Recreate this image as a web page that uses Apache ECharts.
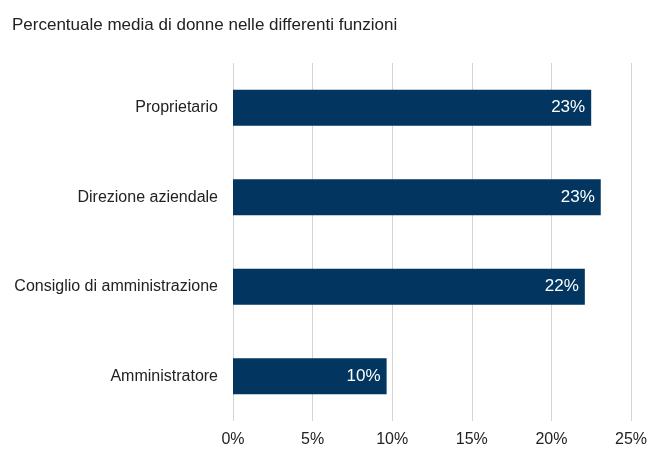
<!DOCTYPE html>
<html>
<head>
<meta charset="utf-8">
<script src="https://cdn.jsdelivr.net/npm/echarts@6/dist/echarts.min.js"></script>
<style>
  html, body { margin: 0; padding: 0; background: #fff; }
  #chart { width: 650px; height: 450px; }
</style>
</head>
<body>
<div id="chart"></div>
<script>
// Average share of women per role (percent)
const categories = ['Proprietario', 'Direzione aziendale', 'Consiglio di amministrazione', 'Amministratore'];
const values = [22.5, 23.1, 22.1, 9.65];
const axisTicks = [0, 5, 10, 15, 20, 25];

const FONT = '"Liberation Sans", Arial, sans-serif';

const chart = echarts.init(document.getElementById('chart'));
chart.setOption({
  animation: false,
  backgroundColor: '#ffffff',
  title: {
    text: 'Percentuale media di donne nelle differenti funzioni',
    left: 7,
    top: 12,
    textStyle: { fontFamily: FONT, fontSize: 17, fontWeight: 'normal', color: '#222222' }
  },
  grid: { left: 233, right: 18, top: 63, bottom: 29, containLabel: false },
  xAxis: {
    type: 'value',
    min: axisTicks[0],
    max: axisTicks[axisTicks.length - 1],
    interval: 5,
    axisLine: { show: false },
    axisTick: { show: false },
    splitLine: { show: true, lineStyle: { color: '#d4d4d4', width: 1 } },
    axisLabel: {
      margin: 11,
      fontFamily: FONT,
      fontSize: 16,
      color: '#222222',
      formatter: v => v + '%'
    }
  },
  yAxis: {
    type: 'category',
    data: categories,
    inverse: true,
    axisLine: { show: false },
    axisTick: { show: false },
    splitLine: { show: false },
    axisLabel: { margin: 15, fontFamily: FONT, fontSize: 16, color: '#222222' }
  },
  series: [{
    type: 'bar',
    data: values,
    barWidth: '40%',
    itemStyle: { color: '#023560' },
    label: {
      show: true,
      position: 'insideRight',
      offset: [-1, 0],
      fontFamily: FONT,
      fontSize: 17,
      color: '#ffffff',
      formatter: p => Math.round(p.value) + '%'
    }
  }]
});
</script>
</body>
</html>
